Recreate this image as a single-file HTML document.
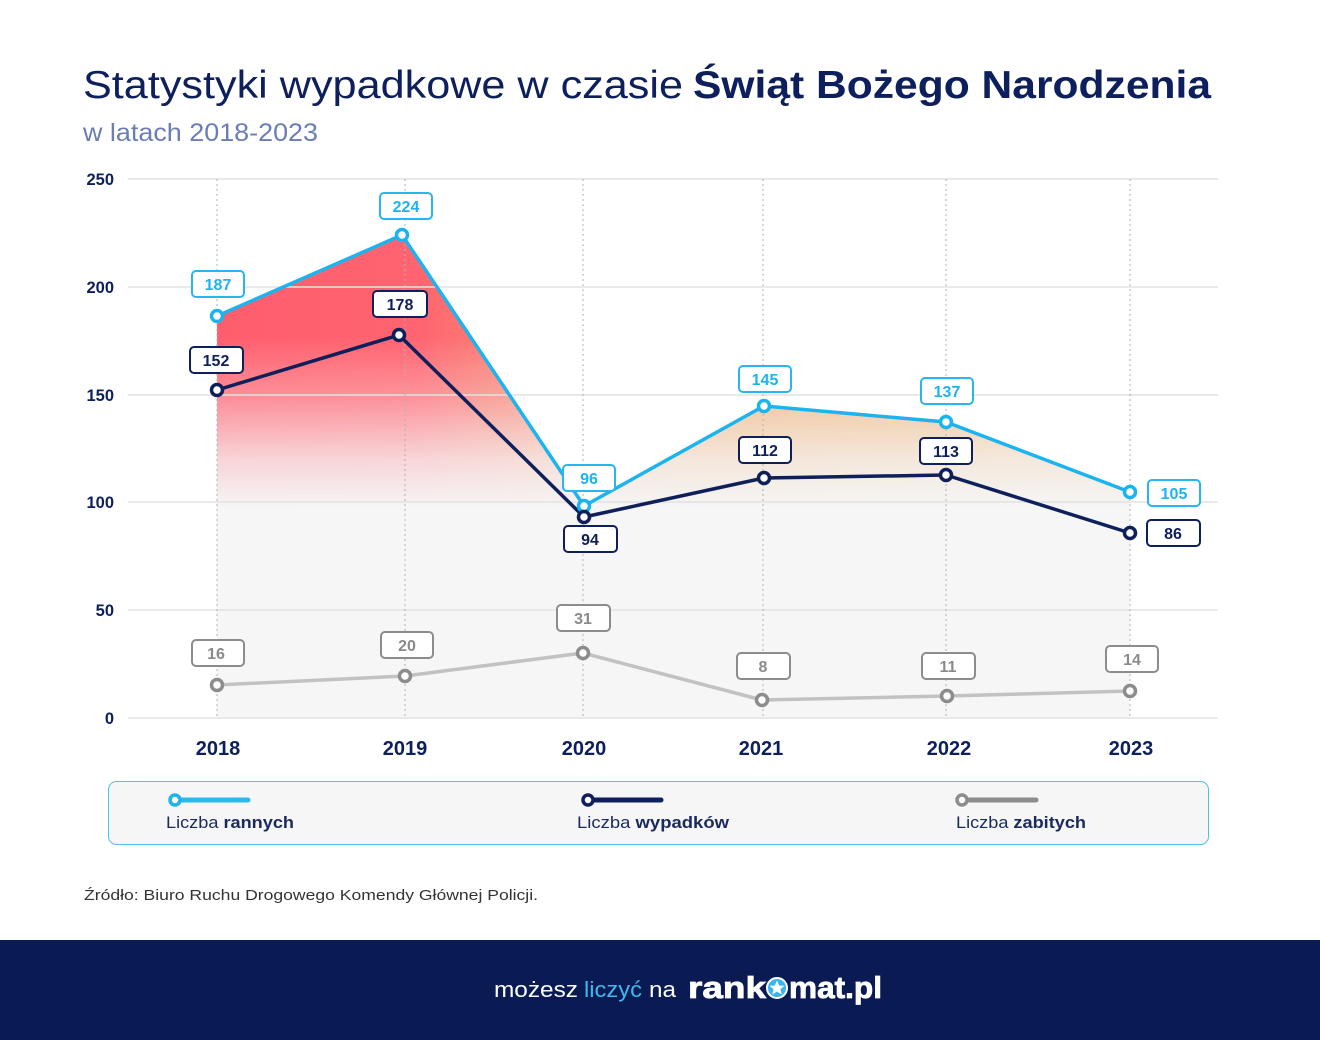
<!DOCTYPE html>
<html><head><meta charset="utf-8"><style>
html,body{margin:0;padding:0;background:#fff;}
svg{display:block;}
text{font-family:"Liberation Sans",Arial,sans-serif;}
</style></head><body>
<svg width="1320" height="1040" viewBox="0 0 1320 1040" xmlns="http://www.w3.org/2000/svg">
<defs>
<linearGradient id="hg" gradientUnits="userSpaceOnUse" x1="217" y1="0" x2="1130" y2="0">
<stop offset="0" stop-color="#ff5d6d"/>
<stop offset="0.22" stop-color="#ff6470"/>
<stop offset="0.36" stop-color="#f68e74"/>
<stop offset="0.5" stop-color="#efb07a"/>
<stop offset="1" stop-color="#efbb85"/>
</linearGradient>
<linearGradient id="vg" gradientUnits="userSpaceOnUse" x1="0" y1="230" x2="0" y2="718">
<stop offset="0" stop-color="#fff"/>
<stop offset="0.22" stop-color="#fff"/>
<stop offset="0.35" stop-color="#a8a8a8"/>
<stop offset="0.47" stop-color="#383838"/>
<stop offset="0.57" stop-color="#000"/>
<stop offset="1" stop-color="#000"/>
</linearGradient>
<mask id="vm" maskUnits="userSpaceOnUse" x="0" y="0" width="1320" height="1040">
<rect x="0" y="0" width="1320" height="1040" fill="url(#vg)"/>
</mask>
</defs>

<!-- Title -->
<text x="83" y="98" font-size="39" fill="#0d1f5c" textLength="600" lengthAdjust="spacingAndGlyphs">Statystyki wypadkowe w czasie</text>
<text x="693" y="98" font-size="39" font-weight="bold" fill="#0d1f5c" textLength="518" lengthAdjust="spacingAndGlyphs">Świąt Bożego Narodzenia</text>
<text x="83" y="141" font-size="25" fill="#6a7db4" textLength="235" lengthAdjust="spacingAndGlyphs">w latach 2018-2023</text>

<!-- Area fill -->
<polygon points="217,718 217,316 402,235 584,506 764,406 946,422 1130,492 1130,718" fill="#f6f6f6"/>
<polygon points="217,718 217,316 402,235 584,506 764,406 946,422 1130,492 1130,718" fill="url(#hg)" mask="url(#vm)"/>

<!-- Grid -->
<g stroke="#e2e2e2" stroke-width="1.5">
<line x1="128" y1="179" x2="1218" y2="179"/>
<line x1="128" y1="287" x2="1218" y2="287"/>
<line x1="128" y1="395" x2="1218" y2="395"/>
<line x1="128" y1="502" x2="1218" y2="502"/>
<line x1="128" y1="610" x2="1218" y2="610"/>
<line x1="128" y1="718" x2="1218" y2="718"/>
</g>
<g stroke="#b0b0b0" stroke-width="1" stroke-dasharray="2 3">
<line x1="217" y1="179" x2="217" y2="718"/>
<line x1="405" y1="179" x2="405" y2="718"/>
<line x1="583" y1="179" x2="583" y2="718"/>
<line x1="763" y1="179" x2="763" y2="718"/>
<line x1="946" y1="179" x2="946" y2="718"/>
<line x1="1130" y1="179" x2="1130" y2="718"/>
</g>

<!-- Y labels -->
<g font-size="16.5" font-weight="bold" fill="#0d1f5c" text-anchor="end">
<text x="114" y="185">250</text>
<text x="114" y="293">200</text>
<text x="114" y="401">150</text>
<text x="114" y="508">100</text>
<text x="114" y="616">50</text>
<text x="114" y="724">0</text>
</g>
<!-- X labels -->
<g font-size="20" font-weight="bold" fill="#0d1f5c" text-anchor="middle">
<text x="218" y="755">2018</text>
<text x="405" y="755">2019</text>
<text x="584" y="755">2020</text>
<text x="761" y="755">2021</text>
<text x="949" y="755">2022</text>
<text x="1131" y="755">2023</text>
</g>

<!-- Gray line -->
<polyline points="217,685 405,676 583,653 762,700 947,696 1130,691" fill="none" stroke="#c2c2c2" stroke-width="3.5" stroke-linejoin="round"/>
<g fill="#fff" stroke="#8c8c8c" stroke-width="3.5">
<circle cx="217" cy="685" r="5.5"/><circle cx="405" cy="676" r="5.5"/><circle cx="583" cy="653" r="5.5"/>
<circle cx="762" cy="700" r="5.5"/><circle cx="947" cy="696" r="5.5"/><circle cx="1130" cy="691" r="5.5"/>
</g>

<!-- Cyan line -->
<polyline points="217,316 402,235 584,506 764,406 946,422 1130,492" fill="none" stroke="#1cb4ee" stroke-width="3.5" stroke-linejoin="round"/>
<!-- Navy line -->
<polyline points="217,390 399,335 584,517 764,478 946,475 1130,533" fill="none" stroke="#0f1f5a" stroke-width="3.5" stroke-linejoin="round"/>
<g fill="#fff" stroke="#1cb4ee" stroke-width="3.5">
<circle cx="217" cy="316" r="5.5"/><circle cx="402" cy="235" r="5.5"/><circle cx="584" cy="506" r="5.5"/>
<circle cx="764" cy="406" r="5.5"/><circle cx="946" cy="422" r="5.5"/><circle cx="1130" cy="492" r="5.5"/>
</g>
<g fill="#fff" stroke="#0f1f5a" stroke-width="3.5">
<circle cx="217" cy="390" r="5.5"/><circle cx="399" cy="335" r="5.5"/><circle cx="584" cy="517" r="5.5"/>
<circle cx="764" cy="478" r="5.5"/><circle cx="946" cy="475" r="5.5"/><circle cx="1130" cy="533" r="5.5"/>
</g>

<!-- Cyan labels -->
<g fill="#fff" stroke="#29b5ee" stroke-width="2">
<rect x="192" y="271" width="52" height="26" rx="4"/>
<rect x="380" y="193" width="52" height="26" rx="4"/>
<rect x="563" y="465" width="52" height="26" rx="4"/>
<rect x="739" y="366" width="52" height="26" rx="4"/>
<rect x="921" y="378" width="52" height="26" rx="4"/>
<rect x="1148" y="480" width="52" height="26" rx="4"/>
</g>
<g font-size="16" font-weight="bold" fill="#1cb4ee" text-anchor="middle">
<text x="218" y="290">187</text>
<text x="406" y="212">224</text>
<text x="589" y="484">96</text>
<text x="765" y="385">145</text>
<text x="947" y="397">137</text>
<text x="1174" y="499">105</text>
</g>

<!-- Navy labels -->
<g fill="#fff" stroke="#0f1f5a" stroke-width="2">
<rect x="190" y="347" width="53" height="26" rx="4"/>
<rect x="373" y="291" width="54" height="26" rx="4"/>
<rect x="564" y="526" width="53" height="26" rx="4"/>
<rect x="739" y="437" width="52" height="26" rx="4"/>
<rect x="920" y="438" width="52" height="26" rx="4"/>
<rect x="1147" y="520" width="53" height="26" rx="4"/>
</g>
<g font-size="16" font-weight="bold" fill="#0f1f5a" text-anchor="middle">
<text x="216" y="366">152</text>
<text x="400" y="310">178</text>
<text x="590" y="545">94</text>
<text x="765" y="456">112</text>
<text x="946" y="457">113</text>
<text x="1173" y="539">86</text>
</g>

<!-- Gray labels -->
<g fill="#fff" stroke="#8c8c8c" stroke-width="2">
<rect x="192" y="640" width="52" height="26" rx="4"/>
<rect x="381" y="632" width="52" height="26" rx="4"/>
<rect x="557" y="605" width="53" height="26" rx="4"/>
<rect x="737" y="653" width="53" height="26" rx="4"/>
<rect x="922" y="653" width="53" height="26" rx="4"/>
<rect x="1106" y="646" width="52" height="26" rx="4"/>
</g>
<g font-size="16" font-weight="bold" fill="#8a8a8a" text-anchor="middle">
<text x="216" y="659">16</text>
<text x="407" y="651">20</text>
<text x="583" y="624">31</text>
<text x="763" y="672">8</text>
<text x="948" y="672">11</text>
<text x="1132" y="665">14</text>
</g>

<!-- Legend -->
<rect x="108.5" y="781.5" width="1100" height="63" rx="8" fill="#f6f6f6" stroke="#4dc3f0" stroke-width="1"/>
<line x1="175" y1="800" x2="248" y2="800" stroke="#2bb9ee" stroke-width="5" stroke-linecap="round"/>
<circle cx="175" cy="800" r="5" fill="#fff" stroke="#1cb4ee" stroke-width="3.5"/>
<line x1="588" y1="800" x2="661" y2="800" stroke="#0f1f5a" stroke-width="5" stroke-linecap="round"/>
<circle cx="588" cy="800" r="5" fill="#fff" stroke="#0f1f5a" stroke-width="3.5"/>
<line x1="962" y1="800" x2="1036" y2="800" stroke="#8c8c8c" stroke-width="5" stroke-linecap="round"/>
<circle cx="962" cy="800" r="5" fill="#fff" stroke="#8c8c8c" stroke-width="3.5"/>
<g font-size="17" fill="#1a2a5e">
<text x="166" y="828" textLength="128" lengthAdjust="spacingAndGlyphs">Liczba <tspan font-weight="bold">rannych</tspan></text>
<text x="577" y="828" textLength="152" lengthAdjust="spacingAndGlyphs">Liczba <tspan font-weight="bold">wypadków</tspan></text>
<text x="956" y="828" textLength="130" lengthAdjust="spacingAndGlyphs">Liczba <tspan font-weight="bold">zabitych</tspan></text>
</g>

<!-- Source -->
<text x="84" y="900" font-size="15" fill="#333" textLength="454" lengthAdjust="spacingAndGlyphs">Źródło: Biuro Ruchu Drogowego Komendy Głównej Policji.</text>

<!-- Footer -->
<rect x="0" y="940" width="1320" height="100" fill="#091b52"/>
<text x="494" y="997" font-size="22" fill="#fff" textLength="84" lengthAdjust="spacingAndGlyphs">możesz</text>
<text x="584" y="997" font-size="22" fill="#3fb8f0" textLength="58" lengthAdjust="spacingAndGlyphs">liczyć</text>
<text x="649" y="997" font-size="22" fill="#fff" textLength="27" lengthAdjust="spacingAndGlyphs">na</text>
<text x="688" y="998" font-size="31" font-weight="bold" fill="#fff" stroke="#fff" stroke-width="0.8" textLength="78" lengthAdjust="spacingAndGlyphs">rank</text>
<circle cx="777" cy="988" r="10" fill="#3ab4ec" stroke="#fff" stroke-width="2"/>
<polygon points="777,980.5 779.2,985.5 784.5,985.8 780.4,989.2 781.7,994.5 777,991.6 772.3,994.5 773.6,989.2 769.5,985.8 774.8,985.5" fill="#fff"/>
<text x="789" y="998" font-size="31" font-weight="bold" fill="#fff" stroke="#fff" stroke-width="0.8" textLength="93" lengthAdjust="spacingAndGlyphs">mat.pl</text>
</svg>
</body></html>
